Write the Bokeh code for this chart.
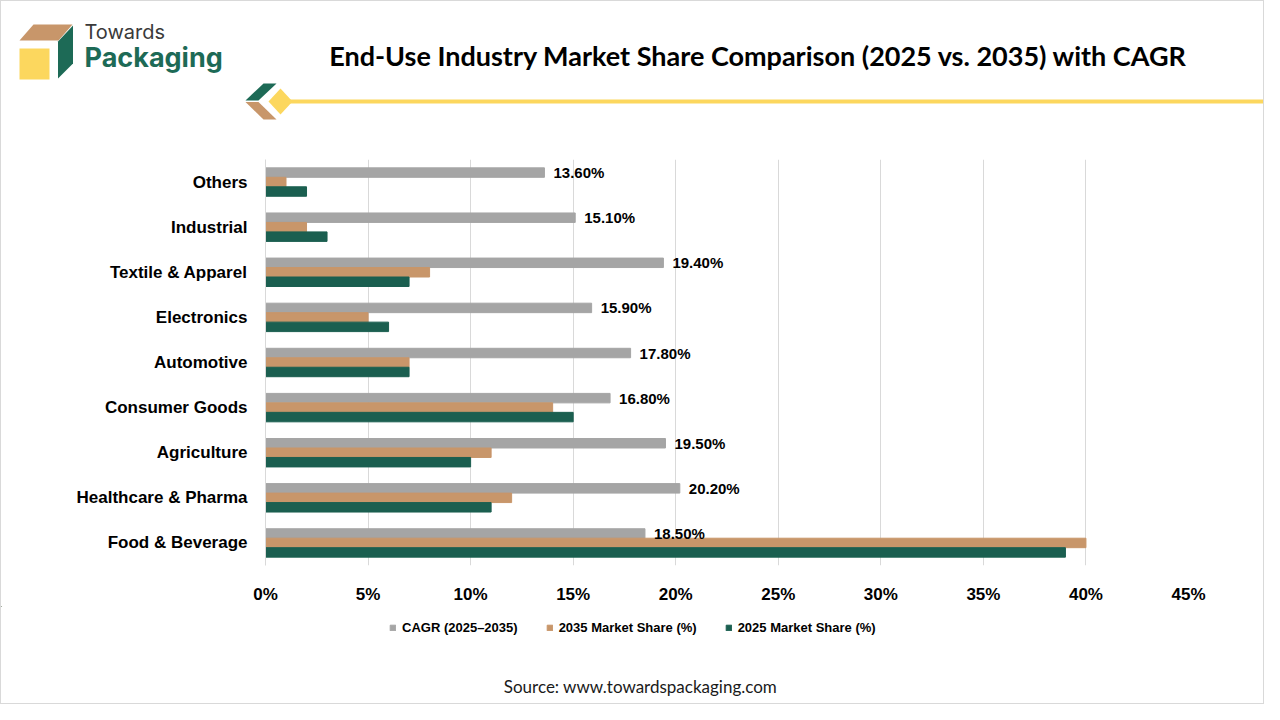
from bokeh.plotting import figure
from bokeh.models import Range1d, FactorRange, FixedTicker, Legend, LegendItem, ColumnDataSource
from bokeh.transform import dodge
from bokeh.layouts import column
from bokeh.core.properties import value
from bokeh.embed import file_html
from bokeh.resources import INLINE

# ---------------- data ----------------
categories = ["Others", "Industrial", "Textile & Apparel", "Electronics", "Automotive",
              "Consumer Goods", "Agriculture", "Healthcare & Pharma", "Food & Beverage"]
cagr = [13.6, 15.1, 19.4, 15.9, 17.8, 16.8, 19.5, 20.2, 18.5]
share_2035 = [1, 2, 8, 5, 7, 14, 11, 12, 40]
share_2025 = [2, 3, 7, 6, 7, 15, 10, 11, 39]
x_ticks = [0, 5, 10, 15, 20, 25, 30, 35, 40, 45]
x_tick_labels = ["0%", "5%", "10%", "15%", "20%", "25%", "30%", "35%", "40%", "45%"]
series_names = ["CAGR (2025\u20132035)", "2035 Market Share (%)", "2025 Market Share (%)"]
title_text = "End-Use Industry Market Share Comparison (2025 vs. 2035) with CAGR"
source_text = "Source: www.towardspackaging.com"

# ---------------- styles ----------------
GRAY = "#A5A5A5"
TAN = "#C8966A"
GREEN = "#1B5F50"
LOGO_GREEN = "#1D6A56"
YELLOW = "#FCD75E"
GRID = "#D9D9D9"
W = 1262
FONT = "Liberation Sans"
SERIES_COLORS = [GRAY, TAN, GREEN]


def blank(h, y0):
    f = figure(width=W, height=h, x_range=Range1d(1, 1 + W), y_range=Range1d(y0 + h, y0),
               toolbar_location=None, output_backend="svg", min_border=0,
               x_axis_location=None, y_axis_location=None)
    f.frame_align = False
    f.grid.visible = False
    f.outline_line_color = None
    return f


# ---------------- header ----------------
header = blank(149, 1)
header.patches(
    xs=[[19, 58, 72, 33], [57.5, 72.5, 72.5, 57.5], [19, 49, 49, 19]],
    ys=[[40, 40, 24, 24], [41, 25, 63, 78], [48, 48, 79, 79]],
    color=[TAN, LOGO_GREEN, YELLOW], line_color=None)
header.text(x=[84], y=[31], text=["Towards"], text_font=value("Inter"), text_font_size="20px",
            text_color="#3A3A3A", text_baseline="middle", text_align="left")
header.text(x=[84], y=[57], text=["Packaging"], text_font=value("Inter"), text_font_size="27px",
            text_font_style="bold", text_color=LOGO_GREEN, text_baseline="middle", text_align="left")
header.text(x=[758], y=[55], text=[title_text], text_font=value("Lato"), text_font_size="27px",
            text_font_style="bold", text_color="#000000", text_baseline="middle", text_align="center")
# decorative separator
header.line(x=[288, 1263], y=[101, 101], line_width=4, line_color=YELLOW)
header.patches(
    xs=[[245, 263, 276, 258], [245, 258, 276, 263], [268, 280, 292, 280]],
    ys=[[100, 83, 83, 100], [101.5, 101.5, 119, 119], [101, 88, 101, 114]],
    color=[LOGO_GREEN, TAN, YELLOW], line_color=None)

# ---------------- main chart ----------------
src = ColumnDataSource(dict(cat=categories, cagr=cagr, s35=share_2035, s25=share_2025,
                            lbl=[f"{v:.2f}%" for v in cagr]))

p = figure(width=W, height=456, y_range=FactorRange(factors=categories[::-1]),
           x_range=Range1d(0, 45), toolbar_location=None, output_backend="svg",
           min_border_left=264, min_border_right=75, min_border_top=9, min_border_bottom=34)
p.outline_line_color = None

BH = 0.21
r1 = p.hbar(y=dodge("cat", BH, range=p.y_range), left=0, right="cagr", height=BH,
            color=GRAY, source=src)
r2 = p.hbar(y=dodge("cat", 0.0, range=p.y_range), left=0, right="s35", height=BH,
            color=TAN, source=src)
r3 = p.hbar(y=dodge("cat", -BH, range=p.y_range), left=0, right="s25", height=BH,
            color=GREEN, source=src)
p.text(x="cagr", y=dodge("cat", BH, range=p.y_range), text="lbl", source=src, x_offset=9,
       text_baseline="middle", text_align="left", text_font=value(FONT),
       text_font_style="bold", text_font_size="15px", text_color="#000000")

p.xaxis.ticker = FixedTicker(ticks=x_ticks)
p.xaxis.major_label_overrides = dict(zip(x_ticks, x_tick_labels))
p.xaxis.axis_line_color = None
p.xaxis.major_tick_line_color = None
p.xaxis.minor_tick_line_color = None
p.xaxis.major_label_standoff = 13
p.xaxis.major_label_text_font = FONT
p.xaxis.major_label_text_font_style = "bold"
p.xaxis.major_label_text_font_size = "17px"
p.xaxis.major_label_text_color = "#000000"

p.yaxis.axis_line_color = GRID
p.yaxis.major_tick_line_color = None
p.yaxis.minor_tick_line_color = None
p.yaxis.major_label_standoff = 12
p.yaxis.major_label_text_font = FONT
p.yaxis.major_label_text_font_style = "bold"
p.yaxis.major_label_text_font_size = "17px"
p.yaxis.major_label_text_color = "#000000"

p.xgrid.ticker = FixedTicker(ticks=x_ticks)
p.xgrid.grid_line_color = GRID
p.ygrid.grid_line_color = None

# ---------------- footer (legend + source) ----------------
footer = blank(97, 606)
# legend swatch renderers: one off-screen row each, only used to draw the legend keys
swatch_src = ColumnDataSource(dict(y=[-1000], right=[-1000]))
swatches = [footer.hbar(y="y", right="right", left=-1001, height=1, color=c, source=swatch_src)
            for c in SERIES_COLORS]
legend = Legend(items=[LegendItem(label=n, renderers=[r]) for n, r in zip(series_names, swatches)],
                orientation="horizontal", location=(388, 68), padding=0, margin=0, spacing=28,
                glyph_width=7, glyph_height=7, label_standoff=6, label_height=13,
                label_text_font=FONT, label_text_font_style="bold", label_text_font_size="13px",
                label_text_color="#000000",
                border_line_color=None, background_fill_alpha=0)
footer.add_layout(legend)
footer.text(x=[640], y=[686], text=[source_text], text_font=value("Lato"), text_font_size="17px",
            text_color="#1A1A1A", text_baseline="middle", text_align="center")

layout = column(header, p, footer, styles={"border": "1px solid #D9D9D9"})
open("out.html", "w").write(file_html(layout, INLINE))
